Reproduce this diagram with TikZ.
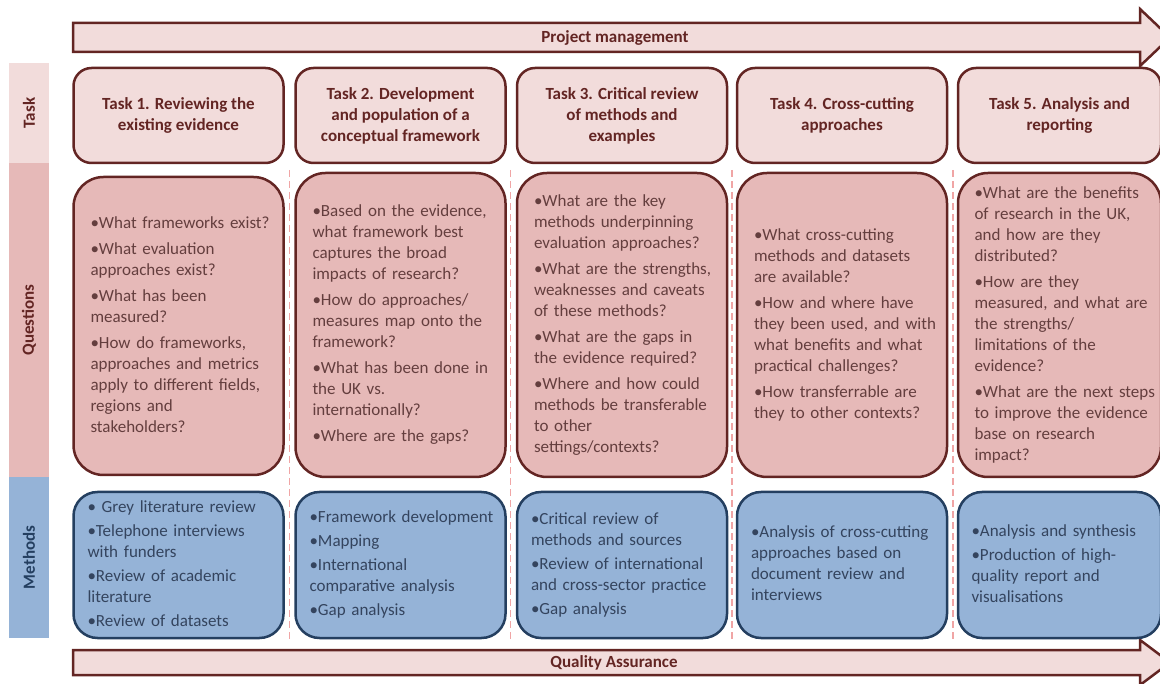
\documentclass[tikz,border=0pt]{standalone}
\usepackage{fontspec}
\setmainfont{Carlito}
\usepackage{xcolor}
\usepackage{tikz}

\definecolor{brn}{HTML}{632523}
\definecolor{taskpink}{HTML}{F2DCDB}
\definecolor{quespink}{HTML}{E6B9B8}
\definecolor{methblue}{HTML}{95B3D7}
\definecolor{navy}{HTML}{243F60}
\definecolor{questext}{RGB}{100,62,62}
\definecolor{methtext}{RGB}{52,68,94}
\definecolor{dashpink}{RGB}{240,165,165}

% one line per row, no automatic wrapping
\newcommand{\bulletlines}[1]{\begin{tabular}{@{}l@{}}#1\end{tabular}}

\begin{document}
\begin{tikzpicture}[x=1pt, y=-1pt,
    task/.style={rectangle, rounded corners=18pt, draw=brn, fill=taskpink, line width=2.5pt, minimum width=210pt, minimum height=95pt, align=center, text=brn, font=\bfseries\fontsize{17}{21}\selectfont},
    question/.style={rectangle, rounded corners=30pt, draw=brn, fill=quespink, line width=2.5pt, minimum width=210pt, minimum height=304pt, text width=176pt, align=left, text=questext, font=\fontsize{17}{21}\selectfont},
    method/.style={rectangle, rounded corners=24pt, draw=navy, fill=methblue, line width=2.5pt, minimum width=210pt, minimum height=146pt, text width=182pt, align=left, text=methtext, font=\fontsize{17}{21}\selectfont},
    strip/.style={rectangle, rotate=90, minimum height=40pt, inner sep=0pt, font=\bfseries\fontsize{17}{21}\selectfont},
    banner/.style={draw=brn, fill=taskpink, line width=2.5pt},
    bannertext/.style={text=brn, font=\bfseries\fontsize{17}{21}\selectfont},
    divider/.style={draw=dashpink, line width=1.5pt, dash pattern=on 7pt off 4pt}
]
\useasboundingbox (0,0) rectangle (1160,684);

% row headings
\node[strip, fill=taskpink, minimum width=100pt, text=brn] (rtask) at (29,113) {Task};
\node[strip, fill=quespink, minimum width=314pt, text=brn] (rques) at (29,320) {Questions};
\node[strip, fill=methblue, minimum width=161pt, text=navy] (rmeth) at (29,557.5) {Methods};

% project management and quality assurance
\draw[banner] (73,23) -- (1140,23) -- (1140,9) -- (1170,37.5) -- (1140,66) -- (1140,52) -- (73,52) -- cycle;
\node[bannertext] (pm) at (615,38) {Project management};
\draw[banner] (73,650) -- (1140,650) -- (1140,640) -- (1170,662.5) -- (1140,685) -- (1140,675) -- (73,675) -- cycle;
\node[bannertext] (qa) at (614,663) {Quality Assurance};

% column dividers
\draw[divider] (289.5,170) -- (289.5,640);
\draw[divider] (510.5,170) -- (510.5,640);
\draw[divider] (732,170) -- (732,640);
\draw[divider] (953,170) -- (953,640);

% tasks
\node[task] (t1) at (178.5,115.5) {Task 1. Reviewing the\\existing evidence};
\node[task] (t2) at (400.5,115.5) {Task 2. Development\\and population of a\\conceptual framework};
\node[task] (t3) at (622,115.5) {Task 3. Critical review\\of methods and\\examples};
\node[task] (t4) at (842,115.5) {Task 4. Cross-cutting\\approaches};
\node[task, minimum width=203pt] (t5) at (1059.5,115.5) {Task 5. Analysis and\\reporting};

% questions
\node[question, minimum height=298pt] (q1) at (178.5,326) {\bulletlines{•What frameworks exist?\\[5pt]
  •What evaluation\\approaches exist?\\[5pt]
  •What has been\\measured?\\[5pt]
  •How do frameworks,\\approaches and metrics\\apply to different fields,\\regions and\\stakeholders?}};
\node[question] (q2) at (400.5,325) {\bulletlines{•Based on the evidence,\\what framework best\\captures the broad\\impacts of research?\\[5pt]
  •How do approaches/\\measures map onto the\\framework?\\[5pt]
  •What has been done in\\the UK vs.\\internationally?\\[5pt]
  •Where are the gaps?}};
\node[question] (q3) at (622,325) {\bulletlines{•What are the key\\methods underpinning\\evaluation approaches?\\[5pt]
  •What are the strengths,\\weaknesses and caveats\\of these methods?\\[5pt]
  •What are the gaps in\\the evidence required?\\[5pt]
  •Where and how could\\methods be transferable\\to other\\settings/contexts?}};
\node[question] (q4) at (842,325) {\bulletlines{•What cross-cutting\\methods and datasets\\are available?\\[5pt]
  •How and where have\\they been used, and with\\what benefits and what\\practical challenges?\\[5pt]
  •How transferrable are\\they to other contexts?}};
\node[question, minimum width=203pt, text width=170pt] (q5) at (1059.5,325) {\bulletlines{•What are the benefits\\of research in the UK,\\and how are they\\distributed?\\[5pt]
  •How are they\\measured, and what are\\the strengths/\\limitations of the\\evidence?\\[5pt]
  •What are the next steps\\to improve the evidence\\base on research\\impact?}};

% methods
\node[method] (m1) at (178.5,565) {\bulletlines{• Grey literature review\\[3pt]
  •Telephone interviews\\with funders\\[3pt]
  •Review of academic\\literature\\[3pt]
  •Review of datasets}};
\node[method] (m2) at (400.5,565) {\bulletlines{•Framework development\\[3pt]
  •Mapping\\[3pt]
  •International\\comparative analysis\\[3pt]
  •Gap analysis}};
\node[method] (m3) at (622,565) {\bulletlines{•Critical review of\\methods and sources\\[3pt]
  •Review of international\\and cross-sector practice\\[3pt]
  •Gap analysis}};
\node[method] (m4) at (842,565) {\bulletlines{•Analysis of cross-cutting\\approaches based on\\document review and\\interviews}};
\node[method, minimum width=203pt, text width=176pt] (m5) at (1059.5,565) {\bulletlines{•Analysis and synthesis\\[3pt]
  •Production of high-\\quality report and\\visualisations}};

\end{tikzpicture}
\end{document}
